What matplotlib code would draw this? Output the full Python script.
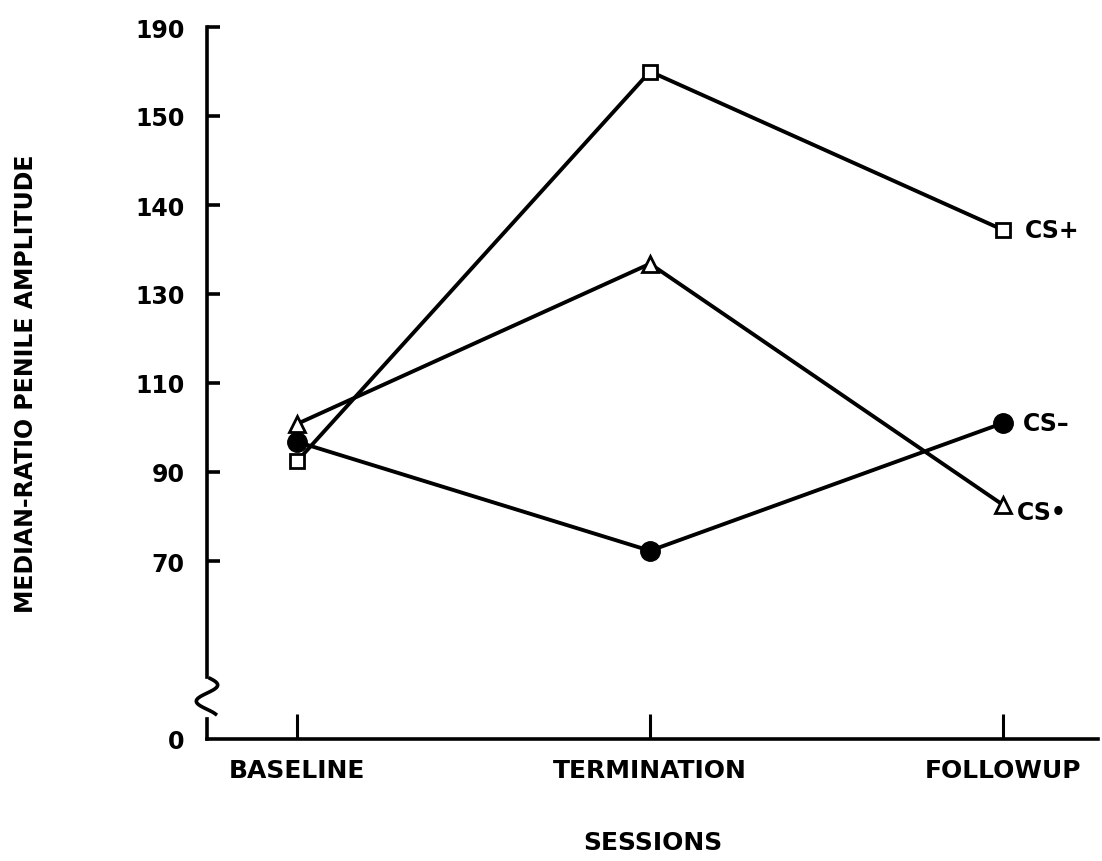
import numpy as np
import matplotlib
matplotlib.use('Agg')
import matplotlib.pyplot as plt

# categories and series
sessions = ['BASELINE', 'TERMINATION', 'FOLLOWUP']
cs_plus = [92.4, 170, 137.2]
cs_zero = [100.8, 133.4, 82.6]
cs_minus = [96.8, 72.3, 101]

# printed y tick labels (unevenly valued, evenly spaced)
ytick_vals = [0, 70, 90, 110, 130, 140, 150, 190]
ytick_pos = [0, 2, 3, 4, 5, 6, 7, 8]


def fwd(v):
  return np.interp(v, ytick_vals, ytick_pos)


def inv(p):
  return np.interp(p, ytick_pos, ytick_vals)


fig = plt.figure(figsize=(11.02, 8.62), dpi=100)
ax = fig.add_axes([207/1102, 122/862, 891/1102, 712/862])

ax.set_yscale('function', functions=(fwd, inv))
ax.set_ylim(0, 190)
x = np.arange(len(sessions))
ax.set_xlim(-0.255, 2.269)

lw = 2.8
ax.plot(x, cs_plus, color='black', lw=lw, marker='s', ms=10, mfc='white', mec='black', mew=2, zorder=3)
ax.plot(x, cs_zero, color='black', lw=lw, marker='^', ms=12, mfc='white', mec='black', mew=2, zorder=3)
ax.plot(x, cs_minus, color='black', lw=lw, marker='o', ms=14, mfc='black', mec='black', zorder=4)

lab_font = dict(fontsize=17, fontweight='bold', va='center', ha='left')
ax.annotate('CS+', (x[-1], cs_plus[-1]), xytext=(16, 0), textcoords='offset points', **lab_font)
ax.annotate('CS\u2013', (x[-1], cs_minus[-1]), xytext=(14, 0), textcoords='offset points', **lab_font)
ax.annotate('CS\u2022', (x[-1], cs_zero[-1]), xytext=(10, -5), textcoords='offset points', **lab_font)

for side in ['top', 'right']:
  ax.spines[side].set_visible(False)
for side in ['left', 'bottom']:
  ax.spines[side].set_linewidth(2.6)

ax.set_yticks(ytick_vals)
ax.set_yticklabels([str(v) for v in ytick_vals], fontsize=17, fontweight='bold')
ax.set_xticks(x)
ax.set_xticklabels(sessions, fontsize=18, fontweight='bold')
ax.tick_params(axis='y', direction='in', length=9, width=2.6, pad=16)
ax.tick_params(axis='x', direction='in', length=18, width=2.2, pad=14)
ax.yaxis.get_major_ticks()[0].tick1line.set_visible(False)

ax.set_xlabel('SESSIONS', fontsize=18, fontweight='bold', labelpad=34)
ax.set_ylabel('MEDIAN-RATIO PENILE AMPLITUDE', fontsize=17, fontweight='bold', labelpad=70)

# axis break on the y axis
tr = ax.transAxes
ax.plot([0, 0], [0.037, 0.079], color='white', lw=6, transform=tr, clip_on=False, zorder=5)
t = np.linspace(0, 1, 40)
sx = 0.012 * np.sin(t * 2.2 * np.pi + 0.3)
sy = 0.085 - t * 0.05
ax.plot(sx, sy, color='black', lw=2.6, transform=tr, clip_on=False, zorder=6)

fig.savefig('out.png', dpi=100)
